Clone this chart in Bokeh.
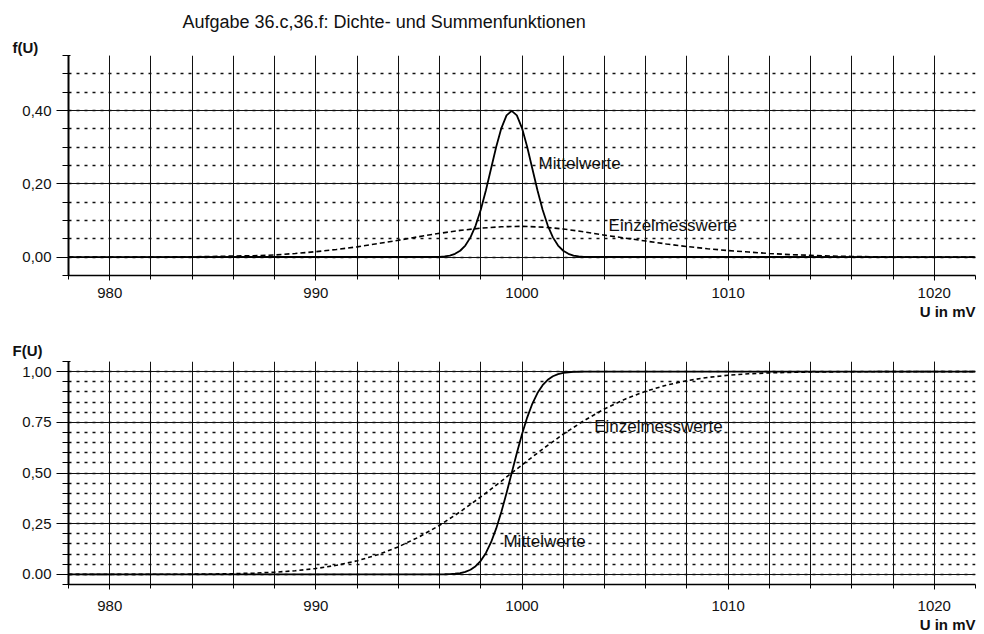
from bokeh.plotting import figure
from bokeh.models import FixedTicker, Label, Title
from bokeh.layouts import column
from bokeh.embed import file_html
from bokeh.resources import INLINE

# ---------------- data ----------------
title_text = "Aufgabe 36.c,36.f: Dichte- und Summenfunktionen"

x_major = [980, 990, 1000, 1010, 1020]
x_minor = [978, 980, 982, 984, 986, 988, 990, 992, 994, 996, 998, 1000,
           1002, 1004, 1006, 1008, 1010, 1012, 1014, 1016, 1018, 1020, 1022]

f_major = [0.0, 0.2, 0.4]
f_labels = ["0,00", "0,20", "0,40"]
f_minor = [-0.05, 0.0, 0.05, 0.1, 0.15, 0.2, 0.25, 0.3, 0.35, 0.4, 0.45, 0.5, 0.55]

F_major = [0.0, 0.25, 0.5, 0.75, 1.0]
F_labels = ["0.00", "0,25", "0,50", "0.75", "1,00"]
F_minor = [-0.05, 0.0, 0.05, 0.1, 0.15, 0.2, 0.25, 0.3, 0.35, 0.4, 0.45, 0.5,
           0.55, 0.6, 0.65, 0.7, 0.75, 0.8, 0.85, 0.9, 0.95, 1.0, 1.05]

# Mittelwerte
mw_u = [978, 996, 996.25, 996.5, 996.75, 997, 997.25, 997.5, 997.75, 998, 998.25,
        998.5, 998.75, 999, 999.25, 999.5, 999.75, 1000, 1000.25, 1000.5, 1000.75,
        1001, 1001.25, 1001.5, 1001.75, 1002, 1002.25, 1002.5, 1002.75, 1003, 1022]
mw_f = [0.0, 0.0009, 0.0020, 0.0044, 0.0091, 0.0175, 0.0317, 0.0540, 0.0863, 0.1295,
        0.1826, 0.2420, 0.3011, 0.3521, 0.3867, 0.3989, 0.3867, 0.3521, 0.3011,
        0.2420, 0.1826, 0.1295, 0.0863, 0.0540, 0.0317, 0.0175, 0.0091, 0.0044,
        0.0020, 0.0009, 0.0]
mw_F = [0.0, 0.0002, 0.0006, 0.0013, 0.0030, 0.0062, 0.0122, 0.0228, 0.0401, 0.0668,
        0.1056, 0.1587, 0.2266, 0.3085, 0.4013, 0.5000, 0.5987, 0.6915, 0.7734,
        0.8413, 0.8944, 0.9332, 0.9599, 0.9772, 0.9878, 0.9938, 0.9970, 0.9987,
        0.9994, 0.9998, 1.0]

# Einzelmesswerte
ew_u = [978, 979, 980, 981, 982, 983, 984, 985, 986, 987, 988, 989, 990, 991, 992,
        993, 994, 995, 996, 997, 998, 999, 1000, 1001, 1002, 1003, 1004, 1005, 1006,
        1007, 1008, 1009, 1010, 1011, 1012, 1013, 1014, 1015, 1016, 1017, 1018, 1019,
        1020, 1021, 1022]
ew_f = [0.0, 0.0, 0.0, 0.0, 0.0, 0.001, 0.001, 0.002, 0.003, 0.004, 0.006, 0.010,
        0.015, 0.021, 0.028, 0.037, 0.046, 0.056, 0.065, 0.073, 0.079, 0.083, 0.084,
        0.082, 0.077, 0.069, 0.060, 0.052, 0.044, 0.036, 0.029, 0.023, 0.018, 0.014,
        0.010, 0.007, 0.005, 0.003, 0.002, 0.001, 0.001, 0.0, 0.0, 0.0, 0.0]
ew_F = [0.0, 0.0, 0.0, 0.0001, 0.0002, 0.0005, 0.0010, 0.0019, 0.0035, 0.0062,
        0.0107, 0.0179, 0.0287, 0.0446, 0.0668, 0.0968, 0.1357, 0.1841, 0.2420,
        0.3085, 0.3821, 0.4602, 0.5398, 0.6179, 0.6915, 0.7580, 0.8159, 0.8643,
        0.9032, 0.9332, 0.9554, 0.9713, 0.9821, 0.9893, 0.9938, 0.9965, 0.9981,
        0.9990, 0.9995, 0.9998, 0.9999, 1.0, 1.0, 1.0, 1.0]

FONT = "Liberation Sans"
INK = "#111111"


def make_panel(height, b_top, b_bottom, y_range, y_major, y_labels, y_minor,
               x_standoff):
    p = figure(width=976, height=height, x_range=(978, 1022), y_range=y_range,
               output_backend="svg", toolbar_location=None,
               min_border_left=68, min_border_right=1,
               min_border_top=b_top, min_border_bottom=b_bottom)
    p.outline_line_color = None
    p.background_fill_color = "white"
    p.border_fill_color = "white"

    xt = FixedTicker(ticks=x_major, minor_ticks=x_minor)
    yt = FixedTicker(ticks=y_major, minor_ticks=y_minor)
    p.xaxis.ticker = xt
    p.yaxis.ticker = yt
    p.xgrid.ticker = xt
    p.ygrid.ticker = yt

    p.xgrid.grid_line_color = INK
    p.xgrid.grid_line_width = 1
    p.xgrid.minor_grid_line_color = INK
    p.xgrid.minor_grid_line_width = 1
    p.ygrid.grid_line_color = INK
    p.ygrid.grid_line_width = 1
    p.ygrid.minor_grid_line_color = INK
    p.ygrid.minor_grid_line_width = 1.5
    p.ygrid.minor_grid_line_dash = "3 5"

    p.yaxis.major_label_overrides = {v: s for v, s in zip(y_major, y_labels)}
    for ax in (p.xaxis, p.yaxis):
        ax.axis_line_color = "black"
        ax.major_tick_line_color = "black"
        ax.minor_tick_line_color = "black"
        ax.major_label_text_font = FONT
        ax.major_label_text_font_size = "15px"
        ax.major_label_text_color = INK
    p.yaxis.axis_line_width = 2
    p.yaxis.major_tick_out = 12
    p.yaxis.major_tick_in = 2
    p.yaxis.minor_tick_out = 6
    p.yaxis.minor_tick_in = 2
    p.yaxis.major_label_standoff = 5
    p.xaxis.axis_line_width = 1.5
    p.xaxis.major_tick_out = 5
    p.xaxis.major_tick_in = 0
    p.xaxis.minor_tick_out = 4
    p.xaxis.minor_tick_in = 0
    p.xaxis.major_label_standoff = x_standoff
    return p


def add_text(p, x, y, text, size="17px"):
    p.add_layout(Label(x=x, y=y, text=text, text_font=FONT, text_font_size=size,
                       text_align="left", text_baseline="middle", text_color=INK))


def side_title(p, text, where, align, offset, standoff, size="15px", bold=True):
    p.add_layout(Title(text=text, align=align, offset=offset, standoff=standoff,
                       text_font=FONT, text_font_size=size,
                       text_font_style="bold" if bold else "normal",
                       text_color=INK), where)


# ---------------- top panel: densities ----------------
p1 = make_panel(322, 55, 47, (-0.05, 0.55), f_major, f_labels, f_minor, 7)
p1.line(ew_u, ew_f, line_color="black", line_width=1.6, line_dash="5 3")
p1.line(mw_u, mw_f, line_color="black", line_width=1.8)
add_text(p1, 1000.8, 0.256, "Mittelwerte")
add_text(p1, 1004.2, 0.087, "Einzelmesswerte")
side_title(p1, "f(U)", "above", "left", -56, 0)
p1.title.text = title_text
p1.title.align = "left"
p1.title.offset = 114
p1.title.standoff = 10
p1.title.text_font = FONT
p1.title.text_font_size = "18px"
p1.title.text_font_style = "normal"
p1.title.text_color = INK
side_title(p1, "U in mV", "below", "right", 0, 0)

# ---------------- bottom panel: distribution functions ----------------
p2 = make_panel(312, 39, 50, (-0.05, 1.05), F_major, F_labels, F_minor, 11)
p2.line(ew_u, ew_F, line_color="black", line_width=1.6, line_dash="4 3")
p2.line(mw_u, mw_F, line_color="black", line_width=1.8)
add_text(p2, 1003.5, 0.73, "Einzelmesswerte")
add_text(p2, 999.1, 0.16, "Mittelwerte")
side_title(p2, "F(U)", "above", "left", -56, 6)
side_title(p2, "U in mV", "below", "right", 0, 0)

layout = column(p1, p2, spacing=0)
open("out.html", "w").write(file_html(layout, INLINE))
